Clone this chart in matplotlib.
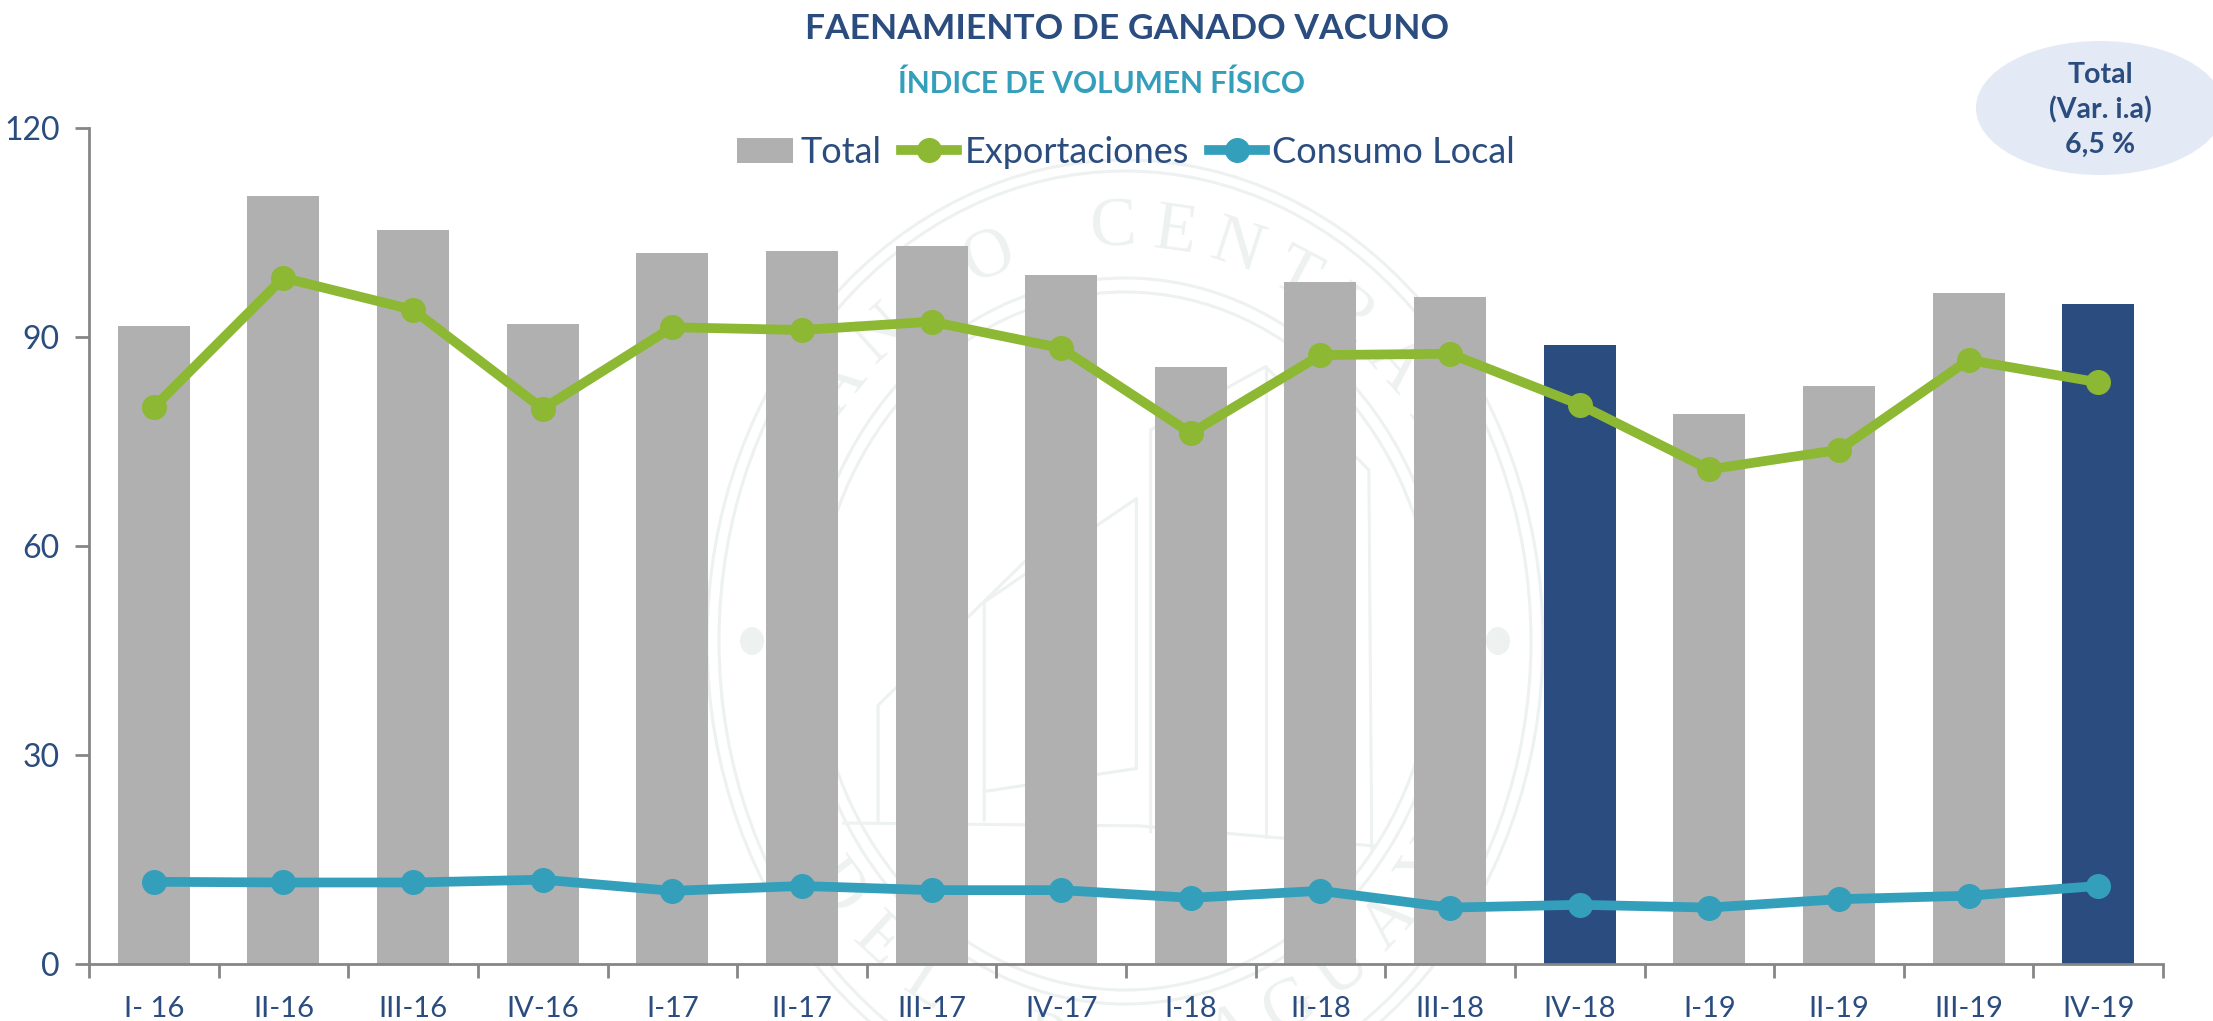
import numpy as np
import matplotlib
matplotlib.use("Agg")
import matplotlib.pyplot as plt
from matplotlib.patches import Ellipse

plt.rcParams['font.family'] = ['Lato', 'DejaVu Sans']

labels = ["I- 16", "II-16", "III-16", "IV-16", "I-17", "II-17", "III-17", "IV-17",
          "I-18", "II-18", "III-18", "IV-18", "I-19", "II-19", "III-19", "IV-19"]
total = [91.6, 110.3, 105.4, 91.8, 102.0, 102.4, 103.0, 98.9,
         85.7, 97.9, 95.7, 88.8, 79.0, 82.9, 96.3, 94.7]
exportaciones = [79.9, 98.5, 93.9, 79.7, 91.4, 91.0, 92.2, 88.4,
                 76.2, 87.4, 87.6, 80.3, 71.0, 73.8, 86.7, 83.5]
consumo = [11.8, 11.7, 11.7, 12.1, 10.5, 11.2, 10.6, 10.6,
           9.5, 10.5, 8.1, 8.5, 8.1, 9.3, 9.8, 11.2]
highlight = ["IV-18", "IV-19"]
yticks = [0, 30, 60, 90, 120]

navy = "#2B4C7E"
gris = "#B0B0B0"
verde = "#8DB833"
celeste = "#349FBB"
sello = "#EDF1F0"
W, H = 2213, 1021

fig = plt.figure(figsize=(W / 100, H / 100), dpi=100)
ax = fig.add_axes([89 / W, 1 - 964 / H, (2163 - 89) / W, (964 - 128) / H])

# watermark behind everything, in figure pixels
bg = fig.add_axes([0, 0, 1, 1], zorder=-1)
bg.set_xlim(0, W)
bg.set_ylim(H, 0)
bg.axis("off")
cx, cy = 1125, 641
for a, b in [(418, 481), (406, 470), (322, 363), (310, 349)]:
    bg.add_patch(Ellipse((cx, cy), 2 * a, 2 * b, fill=False, ec=sello, lw=2.2))
bg.add_patch(Ellipse((752, cy), 24, 28, fc=sello, ec="none"))
bg.add_patch(Ellipse((1498, cy), 24, 28, fc=sello, ec="none"))


def letra(ch, ang, abajo=False):
    t = np.radians(ang)
    if abajo:
        px, py = cx + 362 * np.sin(t), cy + 412 * np.cos(t)
        rot = ang
    else:
        px, py = cx + 362 * np.sin(t), cy - 412 * np.cos(t)
        rot = -ang
    bg.text(px, py, ch, color=sello, fontsize=50, family="Liberation Serif",
            ha="center", va="center", rotation=rot)


for i, ch in enumerate("BANCO CENTRAL"):
    letra(ch, -62 + 10 * i)
for i, ch in enumerate("DEL PARAGUAY"):
    letra(ch, -53 + 10 * i, abajo=True)

# building outline of the seal (zoom pixels -> figure pixels)
edificio = [[(285, 1155), (800, 1160), (1210, 1195)],
            [(345, 1150), (345, 950), (600, 700)],
            [(530, 1150), (530, 770), (795, 590), (795, 1060), (530, 1100)],
            [(820, 1170), (820, 470), (1020, 360), (1200, 540), (1205, 1200)],
            [(1020, 360), (1020, 1180)]]
for trazo in edificio:
    zx, zy = zip(*trazo)
    bg.plot(680 + np.array(zx) / 1.742, 160 + np.array(zy) / 1.742, color=sello, lw=2.2)

bg.add_patch(Ellipse((2100, 108), 248, 134, fc="#E4EAF5", ec="none"))

ax.patch.set_alpha(0)
x = np.arange(len(labels))
colores = [navy if l in highlight else gris for l in labels]
barras = ax.bar(x, total, width=0.556, color=colores, label="Total")
l1, = ax.plot(x, exportaciones, color=verde, lw=7, marker="o", ms=17, label="Exportaciones")
l2, = ax.plot(x, consumo, color=celeste, lw=7, marker="o", ms=17, label="Consumo Local")

ax.set_xlim(-0.5, len(labels) - 0.5)
ax.set_ylim(0, 120)
ax.set_yticks(yticks)
ax.set_xticks(x, labels)
ax.set_xticks(np.arange(len(labels) + 1) - 0.5, minor=True)
ax.tick_params(axis="x", which="major", length=0, pad=23, labelsize=21, labelcolor=navy)
ax.tick_params(axis="x", which="minor", length=10, width=2, color="#868686")
ax.tick_params(axis="y", length=10, width=2, color="#868686", labelsize=23, labelcolor=navy, pad=11)
for s in ["top", "right"]:
    ax.spines[s].set_visible(False)
for s in ["left", "bottom"]:
    ax.spines[s].set_color("#868686")
    ax.spines[s].set_linewidth(2)

ax.legend(handles=[barras, l1, l2], loc="upper center", bbox_to_anchor=(0.5, 1.012), ncol=3,
          frameon=False, fontsize=26, labelcolor=navy, handlelength=1.55, handletextpad=0.2,
          columnspacing=0.55, borderpad=0)

fig.text(1127 / W, 1 - 29 / H, "FAENAMIENTO DE GANADO VACUNO", color=navy, fontsize=25.5,
         fontweight="bold", ha="center", va="center")
fig.text(1102 / W, 1 - 84 / H, "ÍNDICE DE VOLUMEN FÍSICO", color=celeste, fontsize=21.5,
         fontweight="bold", ha="center", va="center")
fig.text(2100 / W, 1 - 110 / H, "Total\n(Var. i.a)\n6,5 %", color=navy, fontsize=20.5,
         fontweight="bold", ha="center", va="center", linespacing=1.4)

fig.savefig("out.png", dpi=100)
